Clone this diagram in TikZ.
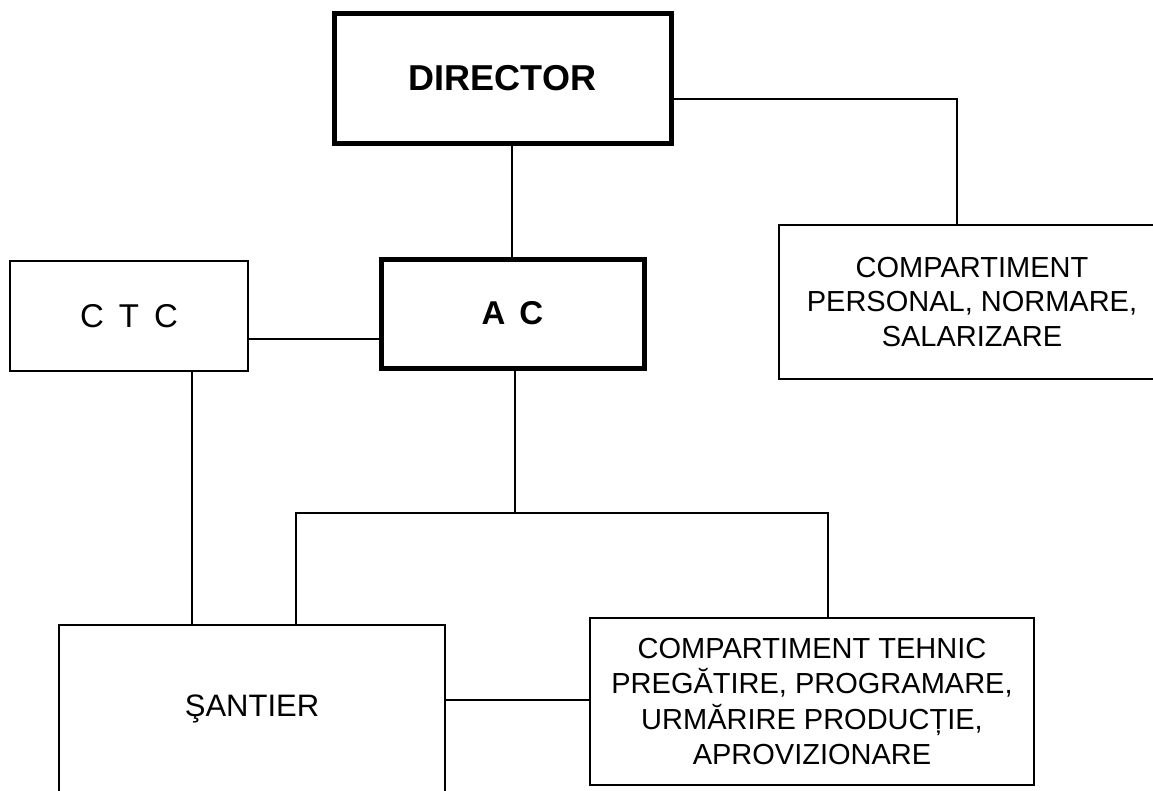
\documentclass[tikz,border=0pt]{standalone}
\usepackage{fontspec}
\setmainfont{Liberation Sans}
\begin{document}
\begin{tikzpicture}[x=1pt,y=-1pt,
  thinbox/.style={draw=black, line width=2pt, fill=white, inner sep=0pt, align=center},
  thickbox/.style={draw=black, line width=5pt, fill=white, inner sep=0pt, align=center},
  link/.style={draw=black, line width=2pt},
  txt/.style={font=\fontsize{29}{34.5}\selectfont}]
\useasboundingbox (0,0) rectangle (1153,790);
\fill[white] (0,0) rectangle (1153,790);

\node[thickbox, minimum width=337pt, minimum height=130pt,
      font=\fontsize{36}{40}\selectfont\bfseries] (DIR) at (502.5,78) {DIRECTOR};
\node[thinbox, minimum width=238pt, minimum height=110pt,
      font=\fontsize{33}{36}\selectfont] (CTC) at (129,316) {C\hspace{15pt}T\hspace{15pt}C};
\node[thickbox, minimum width=263pt, minimum height=109pt,
      font=\fontsize{33}{36}\selectfont\bfseries] (AC) at (512.5,313.5) {A\hspace{14pt}C};
\node[thinbox, txt, minimum width=386pt, minimum height=154pt] (PERS) at (972,302)
  {COMPARTIMENT\\PERSONAL, NORMARE,\\SALARIZARE};
\node[thinbox, minimum width=386pt, minimum height=167pt,
      font=\fontsize{31}{36}\selectfont] (SAN) at (252,708.5) {ŞANTIER};
\node[thinbox, minimum width=444pt, minimum height=167pt,
      font=\fontsize{29}{35.5}\selectfont] (TEH) at (812,701.5)
  {COMPARTIMENT TEHNIC\\PREGĂTIRE, PROGRAMARE,\\URMĂRIRE PRODUCȚIE,\\APROVIZIONARE};

\coordinate (k0) at (512,200);
\coordinate (k1) at (957,99);
\coordinate (k2) at (300,339);
\coordinate (k3) at (192,500);
\coordinate (bm) at (515,513);
\coordinate (b1) at (296,513);
\coordinate (b2) at (828,513);
\coordinate (k4) at (520,700);

\draw[link] (DIR.south -| k0) -- (AC.north -| k0);
\draw[link] (DIR.east |- k1) -- (k1) -- (PERS.north -| k1);
\draw[link] (CTC.east |- k2) -- (AC.west |- k2);
\draw[link] (CTC.south -| k3) -- (SAN.north -| k3);
\draw[link] (AC.south -| bm) -- (bm);
\draw[link] (SAN.north -| b1) -- (b1) -- (b2) -- (TEH.north -| b2);
\draw[link] (SAN.east |- k4) -- (TEH.west |- k4);
\end{tikzpicture}
\end{document}
